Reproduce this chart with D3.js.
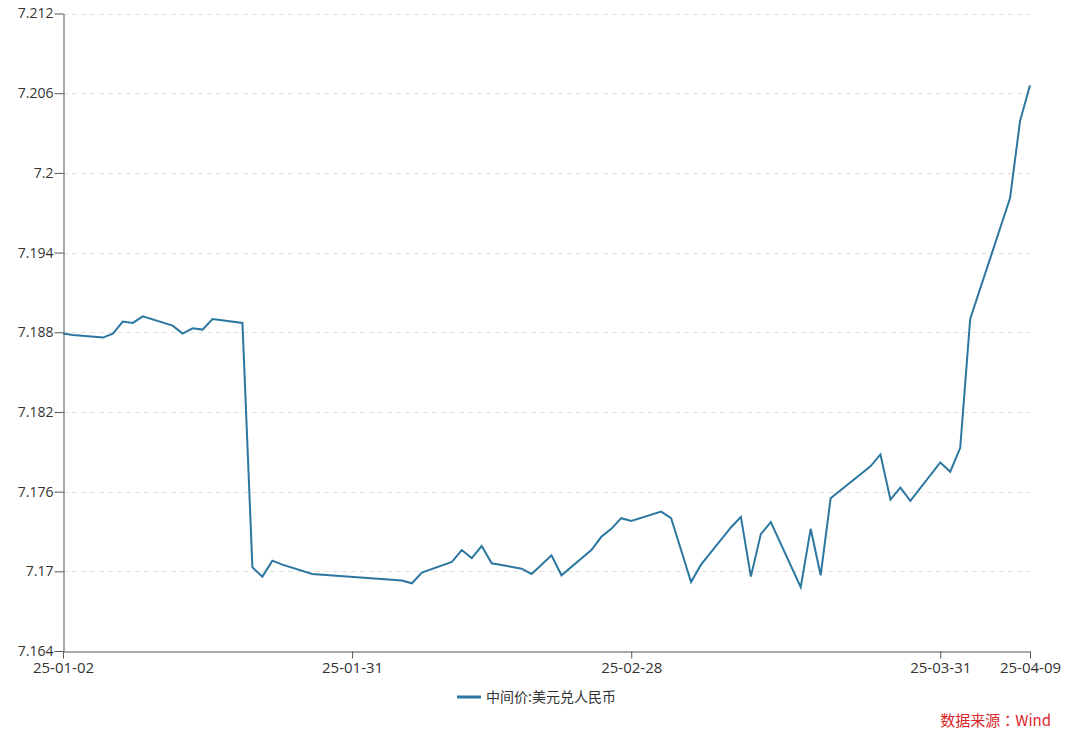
<!DOCTYPE html>
<html>
<head>
<meta charset="utf-8">
<script src="https://cdn.jsdelivr.net/npm/d3@7/dist/d3.min.js"></script>
<style>
  html, body { margin: 0; padding: 0; background: #fff; }
  svg { display: block; font-family: "Open Sans", "Noto Sans CJK SC", sans-serif; }
</style>
</head>
<body>
<svg id="chart" width="1080" height="729"></svg>
<script>
const dates = [
  "2025-01-02","2025-01-03","2025-01-06","2025-01-07","2025-01-08","2025-01-09","2025-01-10",
  "2025-01-13","2025-01-14","2025-01-15","2025-01-16","2025-01-17",
  "2025-01-20","2025-01-21","2025-01-22","2025-01-23","2025-01-24",
  "2025-01-27","2025-02-05","2025-02-06","2025-02-07",
  "2025-02-10","2025-02-11","2025-02-12","2025-02-13","2025-02-14",
  "2025-02-17","2025-02-18","2025-02-19","2025-02-20","2025-02-21",
  "2025-02-24","2025-02-25","2025-02-26","2025-02-27","2025-02-28",
  "2025-03-03","2025-03-04","2025-03-05","2025-03-06","2025-03-07",
  "2025-03-10","2025-03-11","2025-03-12","2025-03-13","2025-03-14",
  "2025-03-17","2025-03-18","2025-03-19","2025-03-20","2025-03-21",
  "2025-03-24","2025-03-25","2025-03-26","2025-03-27","2025-03-28",
  "2025-03-31","2025-04-01","2025-04-02","2025-04-03",
  "2025-04-07","2025-04-08","2025-04-09"
];
const values = [
  7.1879,7.1878,7.1876,7.1879,7.1888,7.1887,7.1892,
  7.1885,7.1879,7.1883,7.1882,7.1890,
  7.1887,7.1703,7.1696,7.1708,7.1705,
  7.1698,7.1693,7.1691,7.1699,
  7.1707,7.1716,7.1710,7.1719,7.1706,
  7.1702,7.1698,7.1705,7.1712,7.1697,
  7.1716,7.1726,7.1732,7.1740,7.1738,
  7.1745,7.1740,7.1716,7.1692,7.1705,
  7.1733,7.1741,7.1696,7.1728,7.1737,
  7.1688,7.1732,7.1697,7.1755,7.1761,
  7.1779,7.1788,7.1754,7.1763,7.1753,
  7.1782,7.1775,7.1793,7.1890,
  7.1981,7.2039,7.2066
];
const yTicks = [7.164, 7.17, 7.176, 7.182, 7.188, 7.194, 7.2, 7.206, 7.212];
const yTickLabels = ["7.164","7.17","7.176","7.182","7.188","7.194","7.2","7.206","7.212"];
const xTickDates = ["2025-01-02","2025-01-31","2025-02-28","2025-03-31","2025-04-09"];
const xTickLabels = ["25-01-02","25-01-31","25-02-28","25-03-31","25-04-09"];
const seriesName = "中间价:美元兑人民币";
const sourceText = "数据来源：Wind";

(function () {
const parse = d3.utcParse("%Y-%m-%d");
const data = dates.map((d, i) => ({ date: parse(d), value: values[i] }));

const svg = d3.select("#chart");
const mLeft = 63, mRight = 1030, mTop = 13.5, mBottom = 651;
const lineColor = "#2b77a0";

const x = d3.scaleUtc()
  .domain([parse(dates[0]), parse(dates[dates.length - 1])])
  .range([mLeft, mRight]);
const y = d3.scaleLinear()
  .domain([yTicks[0], yTicks[yTicks.length - 1]])
  .range([mBottom, mTop]);

// gridlines
svg.append("g")
  .selectAll("line")
  .data(yTicks.slice(1))
  .join("line")
  .attr("x1", mLeft).attr("x2", mRight)
  .attr("y1", d => Math.round(y(d)) + 0.5).attr("y2", d => Math.round(y(d)) + 0.5)
  .attr("stroke", "#e0e0e0")
  .attr("stroke-width", 1)
  .attr("stroke-dasharray", "5,4");

// y axis
const yAxis = d3.axisLeft(y)
  .tickValues(yTicks)
  .tickFormat((d, i) => yTickLabels[i])
  .tickSize(9)
  .tickPadding(1)
  .tickSizeOuter(0);
const gy = svg.append("g")
  .attr("transform", `translate(${mLeft + 0.5},0)`)
  .call(yAxis);
gy.select(".domain").attr("stroke", "#555");
gy.selectAll(".tick line").attr("stroke", "#555");
gy.selectAll(".tick text").attr("fill", "#333").attr("font-size", 14)
  .attr("font-family", "'Open Sans', sans-serif");

// x axis
const xAxis = d3.axisBottom(x)
  .tickValues(xTickDates.map(parse))
  .tickFormat((d, i) => xTickLabels[i])
  .tickSize(7)
  .tickPadding(4)
  .tickSizeOuter(0);
const gx = svg.append("g")
  .attr("transform", `translate(0,${mBottom + 0.5})`)
  .call(xAxis);
gx.select(".domain").attr("stroke", "#555");
gx.selectAll(".tick line").attr("stroke", "#555");
gx.selectAll(".tick text").attr("fill", "#333").attr("font-size", 15)
  .attr("font-family", "'Open Sans', sans-serif");

// line
const line = d3.line().x(d => x(d.date)).y(d => y(d.value));
svg.append("path")
  .datum(data)
  .attr("d", line)
  .attr("fill", "none")
  .attr("stroke", lineColor)
  .attr("stroke-width", 2)
  .attr("stroke-linejoin", "miter");

// legend
const lg = svg.append("g").attr("transform", "translate(457,697)");
lg.append("line")
  .attr("x1", 0).attr("x2", 24).attr("y1", 0).attr("y2", 0)
  .attr("stroke", lineColor).attr("stroke-width", 3);
lg.append("text")
  .attr("x", 29).attr("y", 0).attr("dy", "0.35em")
  .attr("font-size", 14).attr("fill", "#333")
  .attr("font-family", "'Noto Sans CJK SC', sans-serif")
  .text(seriesName);

// source
svg.append("text")
  .attr("x", 1051).attr("y", 721)
  .attr("text-anchor", "end")
  .attr("dy", "0.35em")
  .attr("font-size", 15).attr("fill", "#d9262a")
  .attr("font-family", "'Noto Sans CJK TC', sans-serif")
  .text(sourceText);
})();
</script>
</body>
</html>
